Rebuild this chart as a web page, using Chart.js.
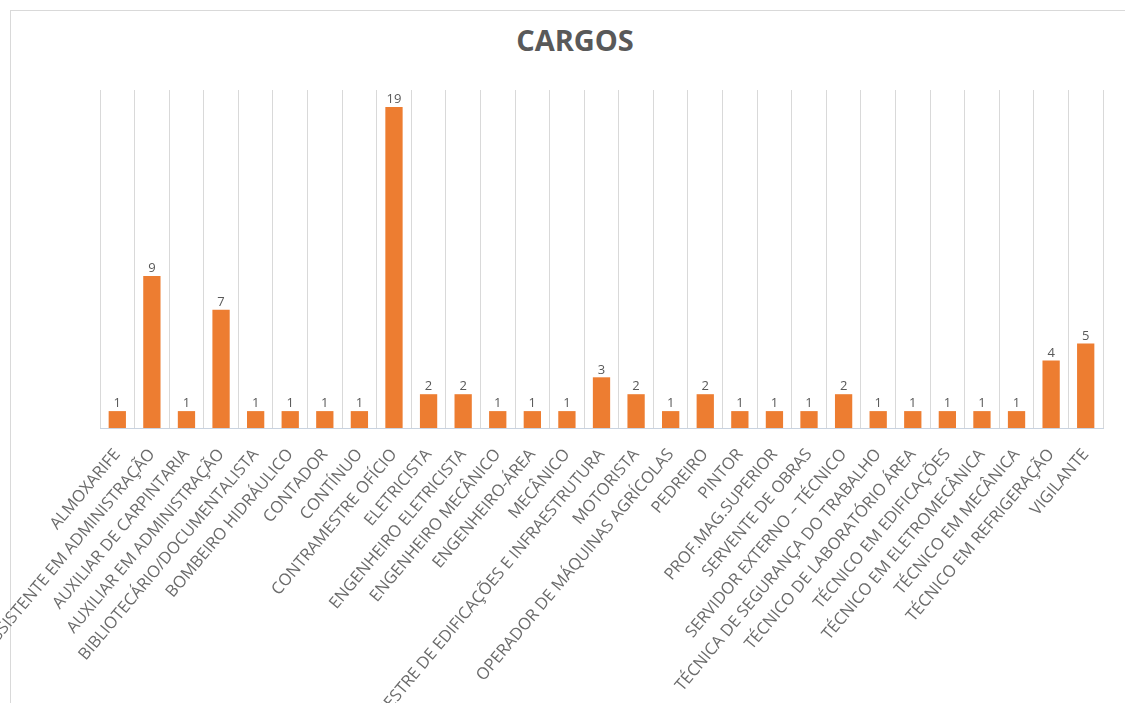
<!DOCTYPE html>
<html lang="pt">

<head>
    <meta charset="UTF-8">
    <title>Cargos</title>
    <script src="https://cdn.jsdelivr.net/npm/chart.js"></script>
    <style>
        html, body { margin: 0; padding: 0; background: #fff; overflow: hidden; }
        .moldura {
            position: absolute; left: 10px; top: 10px; width: 1130px; height: 710px;
            border: 1px solid #d9d9d9; box-sizing: border-box;
        }
        .titulo {
            position: absolute; left: 0; top: 20px; width: 1150px; text-align: center;
            font-family: "Open Sans", sans-serif; font-weight: bold; font-size: 29px; color: #595959;
        }
        .boxGraph { position: absolute; left: 0; top: 0; width: 1125px; height: 703px; }
    </style>
</head>

<body>
    <div class="moldura"></div>
    <div class="titulo">CARGOS</div>
    <div class="boxGraph">
        <canvas id="myChart" width="1125" height="703"></canvas>
    </div>
</body>

<script>
    // categorias e quantidades
    var cargos = [
        'ALMOXARIFE', 'ASSISTENTE EM ADMINISTRAÇÃO', 'AUXILIAR DE CARPINTARIA', 'AUXILIAR EM ADMINISTRAÇÃO',
        'BIBLIOTECÁRIO/DOCUMENTALISTA', 'BOMBEIRO HIDRÁULICO', 'CONTADOR', 'CONTÍNUO', 'CONTRAMESTRE OFÍCIO',
        'ELETRICISTA', 'ENGENHEIRO ELETRICISTA', 'ENGENHEIRO MECÂNICO', 'ENGENHEIRO-ÁREA', 'MECÂNICO',
        'MESTRE DE EDIFICAÇÕES E INFRAESTRUTURA', 'MOTORISTA', 'OPERADOR DE MÁQUINAS AGRÍCOLAS', 'PEDREIRO',
        'PINTOR', 'PROF.MAG.SUPERIOR', 'SERVENTE DE OBRAS', 'SERVIDOR EXTERNO – TÉCNICO',
        'TÉCNICA DE SEGURANÇA DO TRABALHO', 'TÉCNICO DE LABORATÓRIO ÁREA', 'TÉCNICO EM EDIFICAÇÕES',
        'TÉCNICO EM ELETROMECÂNICA', 'TÉCNICO EM MECÂNICA', 'TÉCNICO EM REFRIGERAÇÃO', 'VIGILANTE'
    ];
    var quantidades = [1, 9, 1, 7, 1, 1, 1, 1, 19, 2, 2, 1, 1, 1, 3, 2, 1, 2, 1, 1, 1, 2, 1, 1, 1, 1, 1, 4, 5];
    var eixoMax = 20;

    // escreve o valor em cima de cada barra
    const rotulos = {
        id: 'rotulos',
        afterDatasetsDraw(chart) {
            const ctx = chart.ctx;
            const meta = chart.getDatasetMeta(0);
            ctx.save();
            ctx.font = '13px "Open Sans", sans-serif';
            ctx.fillStyle = '#595959';
            ctx.textAlign = 'center';
            ctx.textBaseline = 'bottom';
            meta.data.forEach((barra, i) => {
                ctx.fillText(String(quantidades[i]), barra.x, barra.y - 1);
            });
            ctx.restore();
        }
    };

    const ctx = document.getElementById('myChart');

    new Chart(ctx, {
        type: 'bar',
        data: {
            labels: cargos,
            datasets: [{
                data: quantidades,
                backgroundColor: '#ED7D31',
                barPercentage: 0.5,
                categoryPercentage: 1
            }]
        },
        options: {
            responsive: false,
            animation: false,
            layout: { padding: { left: 100, right: 22, top: 90, bottom: 0 } },
            plugins: {
                legend: { display: false },
                tooltip: { enabled: false }
            },
            scales: {
                x: {
                    grid: { color: '#d9d9d9', offset: true, drawTicks: false },
                    border: { color: '#c9d3e0' },
                    ticks: {
                        autoSkip: false,
                        maxRotation: 50,
                        minRotation: 50,
                        padding: 17,
                        color: '#6b6b6b',
                        font: { family: 'Open Sans', size: 16.5 }
                    },
                    afterFit(escala) {
                        escala.height = 275;
                        escala.paddingLeft = 0;
                        escala.paddingRight = 0;
                    }
                },
                y: {
                    display: false,
                    min: 0,
                    max: eixoMax
                }
            }
        },
        plugins: [rotulos]
    });
</script>

</html>
